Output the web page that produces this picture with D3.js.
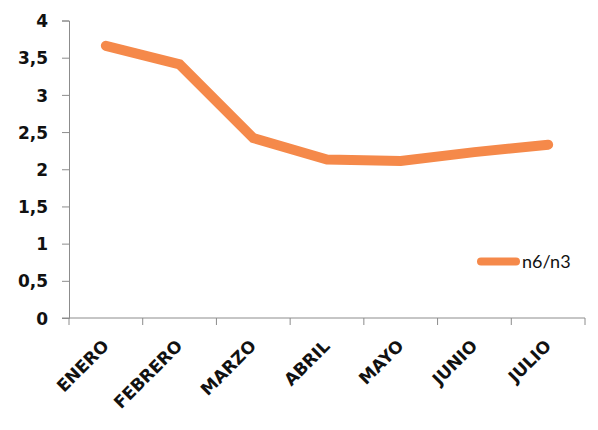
<!DOCTYPE html>
<html>
<head>
<meta charset="utf-8">
<script src="https://cdn.jsdelivr.net/npm/d3@7"></script>
<style>
  html, body { margin: 0; padding: 0; background: #fff; }
  svg { display: block; }
</style>
</head>
<body>
<svg id="chart" width="598" height="430"></svg>
<script>
// Monthly n6/n3 ratio
const months = ["ENERO", "FEBRERO", "MARZO", "ABRIL", "MAYO", "JUNIO", "JULIO"];
const ratioValues = [3.66, 3.41, 2.42, 2.13, 2.11, 2.23, 2.33];
const yTicks = [0, 0.5, 1, 1.5, 2, 2.5, 3, 3.5, 4];
const seriesName = "n6/n3";

const lineColor = "#F5894A";
const axisColor = "#8c8c8c";
const boldFont = "'DejaVu Sans', sans-serif";
const legendFont = "Lato, 'Open Sans', sans-serif";

const svg = d3.select("#chart");
const plot = { left: 69, right: 585, top: 20.5, bottom: 318 };

const x = d3.scaleBand().domain(months).range([plot.left, plot.right]);
const y = d3.scaleLinear().domain([0, 4]).range([plot.bottom, plot.top]);

// Y axis
const yAxis = svg.append("g")
  .attr("transform", `translate(${plot.left},0)`)
  .call(d3.axisLeft(y).tickValues(yTicks).tickSize(7).tickPadding(14)
    .tickFormat(d => String(d).replace(".", ",")));
yAxis.select(".domain").attr("stroke", axisColor);
yAxis.selectAll(".tick line").attr("stroke", axisColor);
yAxis.selectAll(".tick text")
  .attr("fill", "#111")
  .attr("dy", "0.36em")
  .style("font-family", boldFont)
  .style("font-weight", "bold")
  .style("font-size", "17px");

// X axis with tick marks on category boundaries
const xAxisG = svg.append("g").attr("transform", `translate(0,${plot.bottom})`);
xAxisG.append("line")
  .attr("x1", plot.left - 7).attr("x2", plot.right)
  .attr("stroke", axisColor);
const boundaries = months.map(m => x(m)).concat([plot.right]);
xAxisG.selectAll("line.tk").data(boundaries).join("line")
  .attr("class", "tk")
  .attr("x1", d => d).attr("x2", d => d)
  .attr("y1", 0).attr("y2", 7)
  .attr("stroke", axisColor);
xAxisG.selectAll("text").data(months).join("text")
  .attr("transform", d => `translate(${x(d) + x.bandwidth() / 2 + 4},${29}) rotate(-45)`)
  .attr("text-anchor", "end")
  .attr("fill", "#111")
  .style("font-family", boldFont)
  .style("font-weight", "bold")
  .style("font-size", "17px")
  .text(d => d);

// Series line
const line = d3.line()
  .x((d, i) => x(months[i]) + x.bandwidth() / 2)
  .y(d => y(d));
svg.append("path")
  .datum(ratioValues)
  .attr("d", line)
  .attr("fill", "none")
  .attr("stroke", lineColor)
  .attr("stroke-width", 10)
  .attr("stroke-linecap", "round")
  .attr("stroke-linejoin", "miter");

// Legend
const legend = svg.append("g").attr("transform", "translate(481,261.5)");
legend.append("line")
  .attr("x1", 0).attr("x2", 35)
  .attr("stroke", lineColor)
  .attr("stroke-width", 8)
  .attr("stroke-linecap", "round");
legend.append("text")
  .attr("x", 41).attr("dy", "0.36em")
  .attr("fill", "#111")
  .style("font-family", legendFont)
  .style("font-size", "18px")
  .text(seriesName);
</script>
</body>
</html>
